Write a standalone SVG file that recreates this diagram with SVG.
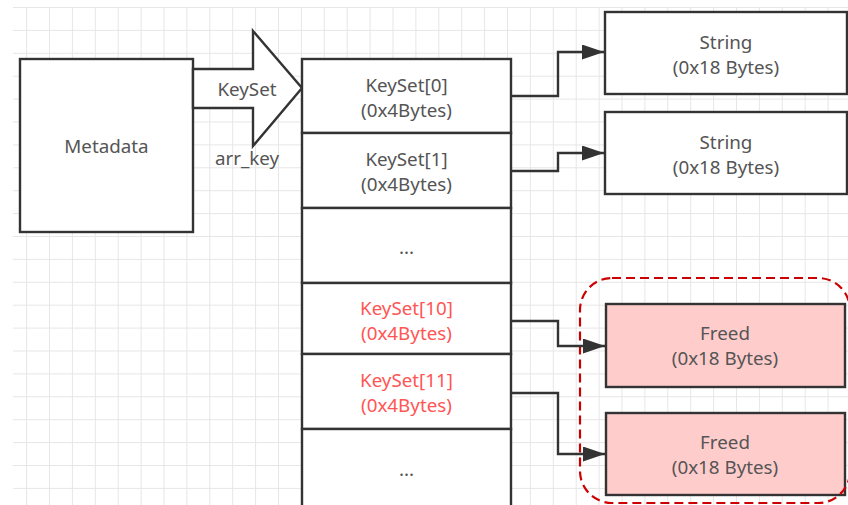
<svg xmlns="http://www.w3.org/2000/svg" width="848" height="505" viewBox="0 0 848 505">
<style>
  .box { fill: #ffffff; stroke: #333333; stroke-width: 2.4; }
  .freed { fill: #ffcccc; stroke: #333333; stroke-width: 2.4; }
  .t { font-family: "Microsoft YaHei", "Noto Sans", "Liberation Sans", sans-serif; font-size: 18.8px; fill: #555555; text-anchor: middle; }
  .red { fill: #ff5555; }
  .conn { fill: none; stroke: #333333; stroke-width: 2.4; }
</style>
<defs>
  <pattern id="grid" patternUnits="userSpaceOnUse" x="3.2" y="7" width="22.9" height="22.9">
    <path d="M0 0.5 H22.9 M0.5 0 V22.9" fill="none" stroke="#e6e6e6" stroke-width="1"/>
  </pattern>
  <marker id="arr" viewBox="0 0 22 15" refX="22" refY="7.5" markerWidth="22" markerHeight="15" markerUnits="userSpaceOnUse" orient="auto">
    <path d="M0 0 L22 7.5 L0 15 Z" fill="#333333"/>
  </marker>
</defs>
<rect width="848" height="505" fill="#ffffff"/>
<rect x="13" y="7" width="835" height="498" fill="url(#grid)"/>

<g id="metadata">
  <rect class="box" x="20" y="59" width="173" height="173"/>
  <text class="t" x="106.5" y="153">Metadata</text>
</g>

<g id="keyset-arrow">
  <path class="box" d="M193 69 H253 V31 L302 88 L253 146 V108 H193 Z"/>
  <text class="t" x="247" y="96">KeySet</text>
  <text class="t" x="247" y="165">arr_key</text>
</g>

<g id="keyset0">
  <rect class="box" x="302" y="59" width="209" height="74"/>
  <text class="t" x="406.5" y="92">KeySet[0]</text>
  <text class="t" x="406.5" y="117">(0x4Bytes)</text>
</g>
<g id="keyset1">
  <rect class="box" x="302" y="133" width="209" height="75"/>
  <text class="t" x="406.5" y="166">KeySet[1]</text>
  <text class="t" x="406.5" y="191">(0x4Bytes)</text>
</g>
<g id="dots1">
  <rect class="box" x="302" y="208" width="209" height="75"/>
  <text class="t" x="406.5" y="254">...</text>
</g>
<g id="keyset10">
  <rect class="box" x="302" y="283" width="209" height="71"/>
  <text class="t red" x="406.5" y="315">KeySet[10]</text>
  <text class="t red" x="406.5" y="340">(0x4Bytes)</text>
</g>
<g id="keyset11">
  <rect class="box" x="302" y="354" width="209" height="75"/>
  <text class="t red" x="406.5" y="387">KeySet[11]</text>
  <text class="t red" x="406.5" y="412">(0x4Bytes)</text>
</g>
<g id="dots2">
  <rect class="box" x="302" y="429" width="209" height="80"/>
  <text class="t" x="406.5" y="476">...</text>
</g>

<g id="string0">
  <rect class="box" x="605" y="12" width="242" height="82"/>
  <text class="t" x="726" y="49">String</text>
  <text class="t" x="726" y="74">(0x18 Bytes)</text>
</g>
<g id="string1">
  <rect class="box" x="605" y="112" width="242" height="82"/>
  <text class="t" x="726" y="149">String</text>
  <text class="t" x="726" y="174">(0x18 Bytes)</text>
</g>
<g id="freed0">
  <rect class="freed" x="606" y="304" width="239" height="83"/>
  <text class="t" x="725" y="340">Freed</text>
  <text class="t" x="725" y="365">(0x18 Bytes)</text>
</g>
<g id="freed1">
  <rect class="freed" x="606" y="413" width="239" height="82"/>
  <text class="t" x="725" y="449">Freed</text>
  <text class="t" x="725" y="474">(0x18 Bytes)</text>
</g>

<g id="freed-group">
  <rect x="580" y="278" width="270" height="225" rx="32" ry="32" fill="none" stroke="#cc0000" stroke-width="2.2" stroke-dasharray="9 5"/>
</g>

<g id="connectors">
  <path class="conn" d="M511 96 H558 V52 H604" marker-end="url(#arr)"/>
  <path class="conn" d="M511 171 H558 V153 H604" marker-end="url(#arr)"/>
  <path class="conn" d="M511 321 H558 V346 H605" marker-end="url(#arr)"/>
  <path class="conn" d="M511 393 H558 V454 H605" marker-end="url(#arr)"/>
</g>
</svg>
